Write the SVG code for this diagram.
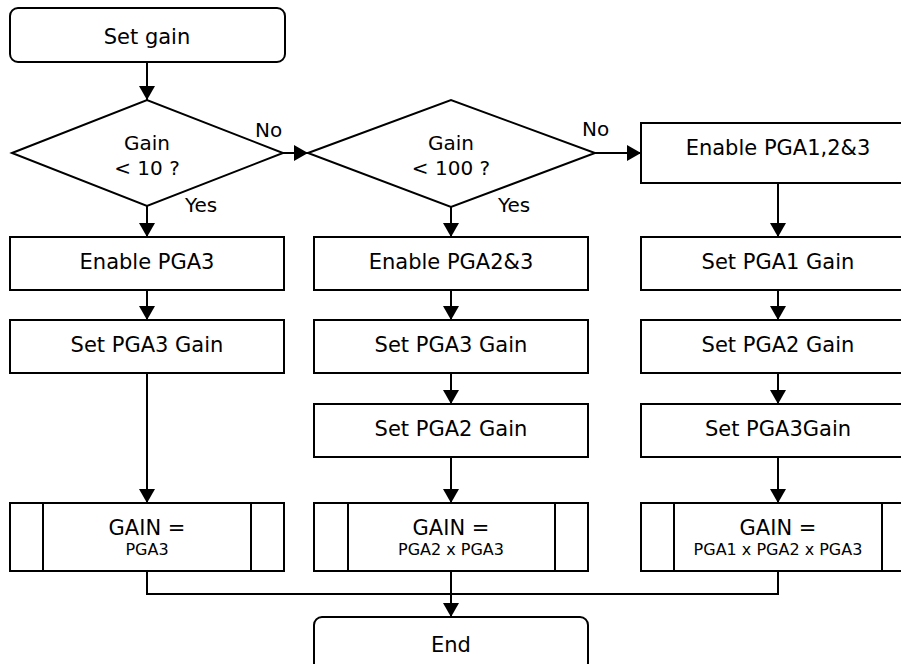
<svg xmlns="http://www.w3.org/2000/svg" width="901" height="664" viewBox="0 0 901 664">
  <style>
    .shape { fill: #ffffff; stroke: #000000; stroke-width: 2; }
    .edge { fill: none; stroke: #000000; stroke-width: 2; }
    .lbl { font-family: "DejaVu Sans", Verdana, sans-serif; font-size: 21px; fill: #000000; text-anchor: middle; }
    .dlbl { font-family: "DejaVu Sans", Verdana, sans-serif; font-size: 20px; fill: #000000; text-anchor: middle; }
    .small { font-family: "DejaVu Sans", Verdana, sans-serif; font-size: 16px; fill: #000000; text-anchor: middle; }
    .branch { font-family: "DejaVu Sans", Verdana, sans-serif; font-size: 20px; fill: #000000; text-anchor: start; }
  </style>
  <defs>
    <marker id="arrow" viewBox="0 0 14 16" refX="14" refY="8" markerWidth="14" markerHeight="16" markerUnits="userSpaceOnUse" orient="auto">
      <path d="M0,0 L14,8 L0,16 z" fill="#000000"/>
    </marker>
  </defs>
  <rect width="901" height="664" fill="#ffffff"/>

  <!-- connectors -->
  <g id="connectors">
    <path class="edge" d="M147,62 V100" marker-end="url(#arrow)"/>
    <path class="edge" d="M283,153 H308" marker-end="url(#arrow)"/>
    <path class="edge" d="M595,153 H641" marker-end="url(#arrow)"/>
    <path class="edge" d="M147,206 V237" marker-end="url(#arrow)"/>
    <path class="edge" d="M451,207 V237" marker-end="url(#arrow)"/>
    <path class="edge" d="M778,183 V237" marker-end="url(#arrow)"/>
    <path class="edge" d="M147,290 V320" marker-end="url(#arrow)"/>
    <path class="edge" d="M451,290 V320" marker-end="url(#arrow)"/>
    <path class="edge" d="M778,290 V320" marker-end="url(#arrow)"/>
    <path class="edge" d="M451,373 V404" marker-end="url(#arrow)"/>
    <path class="edge" d="M778,373 V404" marker-end="url(#arrow)"/>
    <path class="edge" d="M147,373 V503" marker-end="url(#arrow)"/>
    <path class="edge" d="M451,457 V503" marker-end="url(#arrow)"/>
    <path class="edge" d="M778,457 V503" marker-end="url(#arrow)"/>
    <path class="edge" d="M147,571 V594 H778 V571"/>
    <path class="edge" d="M451,571 V617" marker-end="url(#arrow)"/>
    <text class="branch" x="255" y="137">No</text>
    <text class="branch" x="185" y="212">Yes</text>
    <text class="branch" x="582" y="136">No</text>
    <text class="branch" x="498" y="212">Yes</text>
  </g>

  <!-- start / end terminals -->
  <g id="start">
    <rect class="shape" x="10" y="8" width="275" height="54" rx="8"/>
    <text class="lbl" x="147" y="44">Set gain</text>
  </g>
  <g id="end">
    <rect class="shape" x="314" y="617" width="274" height="54" rx="8"/>
    <text class="lbl" x="451" y="652">End</text>
  </g>

  <!-- decisions -->
  <g id="decision-10">
    <polygon class="shape" points="12,153 147,100 283,153 147,206"/>
    <text class="dlbl" x="147" y="150">Gain</text>
    <text class="dlbl" x="147" y="175">&lt; 10 ?</text>
  </g>
  <g id="decision-100">
    <polygon class="shape" points="308,153 451,100 595,153 451,207"/>
    <text class="dlbl" x="451" y="150">Gain</text>
    <text class="dlbl" x="451" y="175">&lt; 100 ?</text>
  </g>

  <!-- column 1 -->
  <g id="enable-pga3">
    <rect class="shape" x="10" y="237" width="274" height="53"/>
    <text class="lbl" x="147" y="269">Enable PGA3</text>
  </g>
  <g id="set-pga3-a">
    <rect class="shape" x="10" y="320" width="274" height="53"/>
    <text class="lbl" x="147" y="352">Set PGA3 Gain</text>
  </g>
  <g id="gain-a">
    <rect class="shape" x="10" y="503" width="274" height="68"/>
    <line class="edge" x1="43" y1="503" x2="43" y2="571"/>
    <line class="edge" x1="251" y1="503" x2="251" y2="571"/>
    <text class="lbl" x="147" y="535">GAIN =</text>
    <text class="small" x="147" y="555">PGA3</text>
  </g>

  <!-- column 2 -->
  <g id="enable-pga23">
    <rect class="shape" x="314" y="237" width="274" height="53"/>
    <text class="lbl" x="451" y="269">Enable PGA2&amp;3</text>
  </g>
  <g id="set-pga3-b">
    <rect class="shape" x="314" y="320" width="274" height="53"/>
    <text class="lbl" x="451" y="352">Set PGA3 Gain</text>
  </g>
  <g id="set-pga2-b">
    <rect class="shape" x="314" y="404" width="274" height="53"/>
    <text class="lbl" x="451" y="436">Set PGA2 Gain</text>
  </g>
  <g id="gain-b">
    <rect class="shape" x="314" y="503" width="274" height="68"/>
    <line class="edge" x1="348" y1="503" x2="348" y2="571"/>
    <line class="edge" x1="555" y1="503" x2="555" y2="571"/>
    <text class="lbl" x="451" y="535">GAIN =</text>
    <text class="small" x="451" y="555">PGA2 x PGA3</text>
  </g>

  <!-- column 3 -->
  <g id="enable-pga123">
    <rect class="shape" x="641" y="123" width="274" height="60"/>
    <text class="lbl" x="778" y="155">Enable PGA1,2&amp;3</text>
  </g>
  <g id="set-pga1-c">
    <rect class="shape" x="641" y="237" width="274" height="53"/>
    <text class="lbl" x="778" y="269">Set PGA1 Gain</text>
  </g>
  <g id="set-pga2-c">
    <rect class="shape" x="641" y="320" width="274" height="53"/>
    <text class="lbl" x="778" y="352">Set PGA2 Gain</text>
  </g>
  <g id="set-pga3-c">
    <rect class="shape" x="641" y="404" width="274" height="53"/>
    <text class="lbl" x="778" y="436">Set PGA3Gain</text>
  </g>
  <g id="gain-c">
    <rect class="shape" x="641" y="503" width="274" height="68"/>
    <line class="edge" x1="674" y1="503" x2="674" y2="571"/>
    <line class="edge" x1="882" y1="503" x2="882" y2="571"/>
    <text class="lbl" x="778" y="535">GAIN =</text>
    <text class="small" x="778" y="555">PGA1 x PGA2 x PGA3</text>
  </g>
</svg>
